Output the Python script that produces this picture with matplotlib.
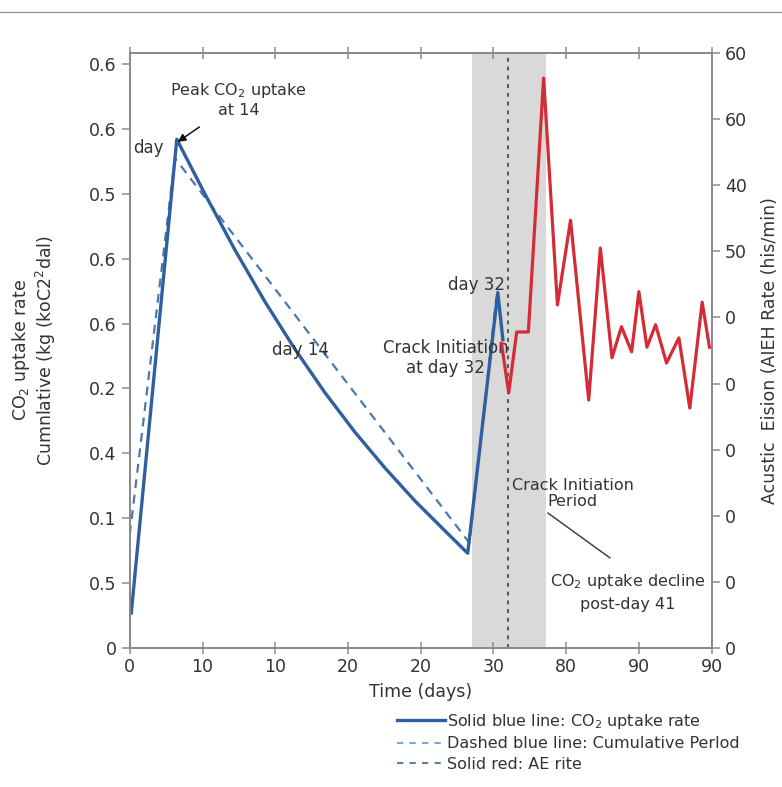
import matplotlib.pyplot as plt
from matplotlib.lines import Line2D

# --- data ---
# underlying x scale 0..80, tick labels are as printed in the chart
x_ticks = [0, 10, 20, 30, 40, 50, 60, 70, 80]
x_tick_labels = ['0', '10', '10', '20', '20', '30', '80', '90', '90']
left_ticks = [0, 0.1, 0.2, 0.3, 0.4, 0.5, 0.6, 0.7, 0.8, 0.9]
left_tick_labels = ['0', '0.5', '0.1', '0.4', '0.2', '0.6', '0.6', '0.5', '0.6', '0.6']
right_ticks = [0, 10, 20, 30, 40, 50, 60, 70, 80, 90]
right_tick_labels = ['0', '0', '0', '0', '0', '0', '50', '40', '60', '60']

uptake_days = [0.2, 6.46, 10.31, 14.43, 18.56, 22.68, 26.80, 30.93, 35.05, 39.18,
               43.30, 46.46, 50.6, 51.3]
uptake_rate = [0.054, 0.784, 0.700, 0.614, 0.534, 0.461, 0.394, 0.333, 0.278, 0.227,
               0.181, 0.146, 0.548, 0.475]

cumul_days = [0.0, 6.2, 46.7, 50.4]
cumul_vals = [0.175, 0.755, 0.162, 0.54]

ae_days = [51.1, 52.1, 53.2, 54.8, 56.9, 58.8, 60.6, 63.1, 64.7, 66.3, 67.6, 69.0,
           70.0, 71.1, 72.3, 73.8, 75.5, 77.0, 78.7, 79.7]
ae_rate = [46.1, 38.6, 47.8, 47.8, 86.2, 51.9, 64.7, 37.5, 60.5, 43.9, 48.6, 44.8,
           53.9, 45.5, 48.9, 43.1, 46.9, 36.3, 52.3, 45.5]

crack_period = (47.0, 57.2)
crack_day = 52.0

blue = '#2f5f9e'
red = '#d52b36'
spine_col = '#8a8a8a'
txt = '#333333'

plt.rcParams['font.family'] = ['DejaVu Sans']
fig = plt.figure(figsize=(7.82, 7.87), dpi=100)
ax1 = fig.add_axes([0.166, 0.1766, 0.744, 0.7561])
ax2 = ax1.twinx()

ax1.axvspan(*crack_period, color='#d9d9d9', zorder=0, lw=0)
ax1.axvline(crack_day, color='#555555', ls=(0, (2, 2.5)), lw=1.4, zorder=1)

ax1.plot(cumul_days, cumul_vals, color=blue, ls=(0, (4, 3)), lw=1.6, alpha=0.85, zorder=2)
ax1.plot(uptake_days, uptake_rate, color=blue, lw=2.4, zorder=3)
ax2.plot(ae_days, ae_rate, color=red, lw=2.3, zorder=3)

ax1.set_xlim(0, 80)
ax1.set_ylim(0, 0.917)
ax2.set_ylim(0, 90)
ax1.set_xticks(x_ticks)
ax1.set_xticklabels(x_tick_labels)
ax1.set_yticks(left_ticks)
ax1.set_yticklabels(left_tick_labels)
ax2.set_yticks(right_ticks)
ax2.set_yticklabels(right_tick_labels)

for a in (ax1, ax2):
    for s in a.spines.values():
        s.set_color(spine_col)
        s.set_linewidth(1.3)
ax1.tick_params(axis='x', direction='inout', length=9, width=1.1, color=spine_col,
                labelsize=12.5, labelcolor=txt, top=True, pad=3)
ax1.tick_params(axis='y', direction='out', length=6, width=1.1, color=spine_col,
                labelsize=12.5, labelcolor=txt)
ax2.tick_params(axis='y', direction='out', length=6, width=1.1, color=spine_col,
                labelsize=12.5, labelcolor=txt)

ax1.set_xlabel('Time (days)', fontsize=12.5, color=txt, labelpad=5)
ax1.set_ylabel('CO$_2$ uptake rate\nCumnlative (kg (koC2$^2$dal)', fontsize=12.5,
               color=txt, labelpad=22, linespacing=1.15)
ax2.set_ylabel('Acustic  Eision (AIEH Rate (his/min)', fontsize=12.5, color=txt, labelpad=10)

# annotations
ax1.annotate('Peak CO$_2$ uptake\nat 14', xy=(6.6, 0.78), xytext=(15.0, 0.845),
             ha='center', va='center', fontsize=11.5, color=txt, linespacing=1.2,
             arrowprops=dict(arrowstyle='-|>', color='#111111', lw=1.1, shrinkA=8, shrinkB=0))
ax1.text(4.6, 0.77, 'day', fontsize=12, color=txt, ha='right', va='center')
ax1.text(23.5, 0.46, 'day 14', fontsize=12, color=txt, ha='center', va='center')
ax1.text(51.6, 0.56, 'day 32', fontsize=12, color=txt, ha='right', va='center')
ax1.text(43.4, 0.447, 'Crack Initiation\nat day 32', fontsize=12, color=txt,
         ha='center', va='center', linespacing=1.1)
ax1.text(60.9, 0.238, 'Crack Initiation\nPeriod', fontsize=11.5, color=txt,
         ha='center', va='center', linespacing=1.15)
ax1.plot([57.5, 66.0], [0.208, 0.139], color='#444444', lw=1.1)
ax1.text(68.5, 0.087, 'CO$_2$ uptake decline\npost-day 41', fontsize=11.5, color=txt,
         ha='center', va='center', linespacing=1.5)

# legend
handles = [Line2D([], [], color=blue, lw=2.4),
           Line2D([], [], color='#7aa7d8', lw=1.5, ls=(0, (3, 3))),
           Line2D([], [], color=blue, lw=1.5, ls=(0, (3, 3)), alpha=0.8)]
labels = ['Solid blue line: CO$_2$ uptake rate',
          'Dashed blue line: Cumulative Perlod',
          'Solid red: AE rite']
fig.legend(handles, labels, loc='upper left', bbox_to_anchor=(0.5, 0.104),
           frameon=False, fontsize=11.5, handlelength=3.0, handletextpad=0.1,
           labelspacing=0.35, borderaxespad=0, labelcolor=txt)

fig.add_artist(Line2D([0.0, 1.0], [0.985, 0.985], color='#999999', lw=1.0))

fig.savefig('out.png', dpi=100)
